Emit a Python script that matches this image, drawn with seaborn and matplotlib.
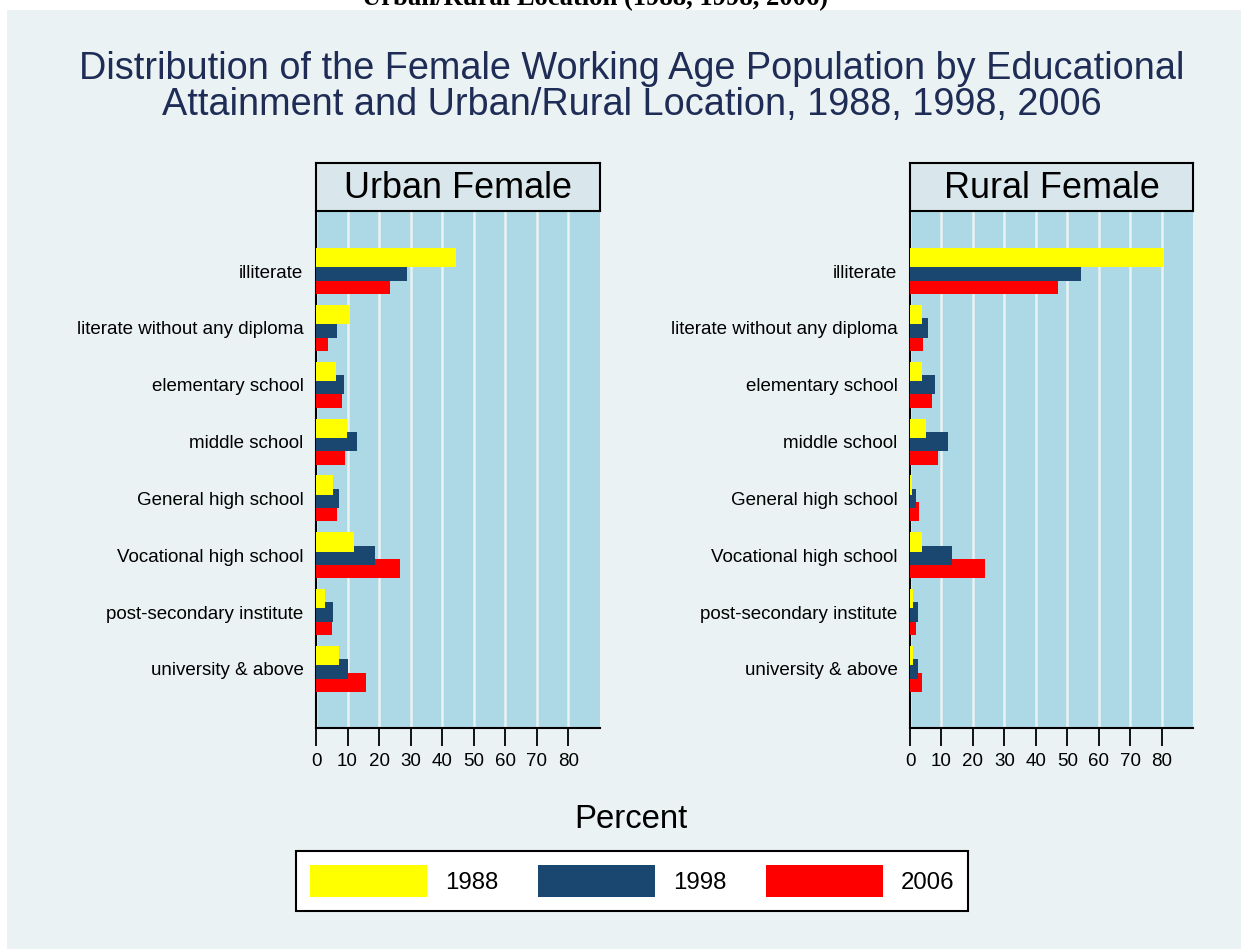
import numpy as np
import pandas as pd
import matplotlib
matplotlib.use("Agg")
import matplotlib.pyplot as plt
from matplotlib.patches import Patch, Rectangle
import seaborn as sns

# values (percent)
categories = ["illiterate", "literate without any diploma", "elementary school",
              "middle school", "General high school", "Vocational high school",
              "post-secondary institute", "university & above"]
years = ["1988", "1998", "2006"]

urban_1988 = [44.4, 10.8, 6.4, 9.9, 5.4, 12.0, 2.8, 7.4]
urban_1998 = [28.8, 6.8, 8.9, 13.1, 7.4, 18.8, 5.3, 10.1]
urban_2006 = [23.3, 3.7, 8.2, 9.3, 6.8, 26.7, 5.2, 16.0]

rural_1988 = [80.6, 3.9, 3.8, 5.2, 0.7, 3.9, 1.1, 1.0]
rural_1998 = [54.3, 5.7, 7.9, 12.0, 1.9, 13.3, 2.4, 2.4]
rural_2006 = [47.2, 4.0, 6.9, 9.0, 3.0, 23.9, 1.9, 3.9]

panels = [("Urban Female", [urban_1988, urban_1998, urban_2006]),
          ("Rural Female", [rural_1988, rural_1998, rural_2006])]

colors = {"1988": "#FFFF00", "1998": "#1A476F", "2006": "#FF0000"}
offsets = {"1988": -0.235, "1998": 0.0, "2006": 0.235}

sns.set_style("ticks")
plt.rcParams["font.family"] = ["Liberation Sans", "DejaVu Sans"]
plt.rcParams["text.color"] = "black"
plt.rcParams["xtick.color"] = "black"
plt.rcParams["ytick.color"] = "black"
plt.rcParams["axes.labelcolor"] = "black"

W, H = 1241, 949
fig = plt.figure(figsize=(W / 100, H / 100), dpi=100)
fig.patch.set_facecolor("white")

# outer background panel
fig.patches.append(Rectangle((7 / W, 0), 1 - 7 / W, 1 - 10 / H, transform=fig.transFigure,
                             facecolor="#EAF2F3", edgecolor="none", zorder=-10))

# heading cut off at the top edge, as in the original
fig.text(595 / W, 1 - 5 / H, "Urban/Rural Location (1988, 1998, 2006)", ha="center",
         va="baseline", fontsize=19.2, fontweight="bold", family="Liberation Serif")

fig.text(632 / W, 1 - 87 / H,
         "Distribution of the Female Working Age Population by Educational\n"
         "Attainment and Urban/Rural Location, 1988, 1998, 2006",
         ha="center", va="center", fontsize=27.3, color="#1E2C56", linespacing=1.0)

ax_lefts = [316, 910]
ax_widths = [284, 283]
for (name, series), left, width in zip(panels, ax_lefts, ax_widths):
    ax = fig.add_axes([left / W, 1 - 728 / H, width / W, (728 - 212) / H])
    ax.set_facecolor("#ADD8E6")
    # draw red first, yellow last so yellow sits on top
    for yr, vals in reversed(list(zip(years, series))):
        df = pd.DataFrame({"value": vals,
                           "pos": np.arange(len(categories)) + offsets[yr]})
        sns.barplot(data=df, x="value", y="pos", orient="h", native_scale=True,
                    width=0.34, color=colors[yr], saturation=1, errorbar=None,
                    edgecolor="none", linewidth=0, ax=ax, zorder=3)
    ax.set_xlim(0, 90)
    ax.set_ylim(len(categories) - 1 + 1.04, -1.04)
    ax.set_xticks(range(0, 90, 10))
    ax.set_yticks(range(len(categories)))
    ax.set_yticklabels(categories, fontsize=13.5)
    ax.tick_params(axis="y", length=0, pad=9)
    ax.tick_params(axis="x", length=13, width=1.3, labelsize=13.5, pad=5, color="black")
    ax.grid(axis="x", color="#EAF2F3", linewidth=1.8, zorder=1)
    ax.grid(axis="y", visible=False)
    ax.set_axisbelow(True)
    ax.set_xlabel("")
    ax.set_ylabel("")
    for s in ["top", "right"]:
        ax.spines[s].set_visible(False)
    for s in ["left", "bottom"]:
        ax.spines[s].set_color("black")
        ax.spines[s].set_linewidth(1.5)

    # strip title box
    sax = fig.add_axes([left / W, 1 - 211 / H, width / W, 48 / H])
    sax.set_facecolor("#D9E6EB")
    sax.set_xticks([])
    sax.set_yticks([])
    for s in sax.spines.values():
        s.set_color("black")
        s.set_linewidth(1.5)
        s.set_visible(True)
    sax.text(0.5, 0.47, name, ha="center", va="center", fontsize=25.9,
             transform=sax.transAxes)

fig.text(631 / W, 1 - 820 / H, "Percent", ha="center", va="center", fontsize=23.7)

handles = [Patch(facecolor=colors[y], edgecolor="none", label=y) for y in years]
leg = fig.legend(handles=handles, loc="center", bbox_to_anchor=(632 / W, 1 - 881 / H),
                 ncol=3, fontsize=17.3, frameon=True, fancybox=False, edgecolor="black",
                 facecolor="white", framealpha=1, handlelength=4.87, handleheight=1.7,
                 handletextpad=0.75, columnspacing=1.65, borderpad=0.58)
leg.get_frame().set_linewidth(1.5)

fig.savefig("out.png", dpi=100, facecolor=fig.get_facecolor())
